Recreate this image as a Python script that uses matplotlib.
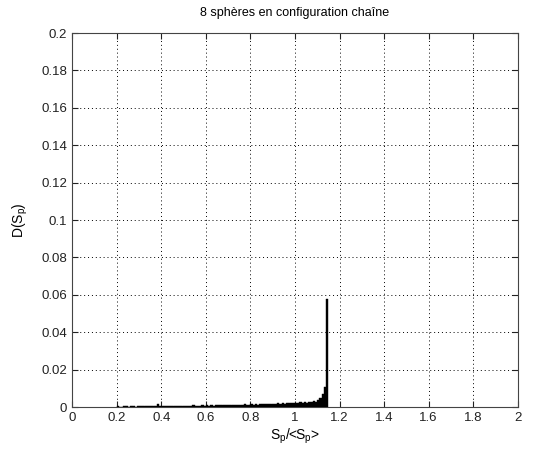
import numpy as np
import matplotlib
matplotlib.use("Agg")
import matplotlib.pyplot as plt

plt.rcParams['font.family'] = ['Liberation Sans', 'DejaVu Sans']
plt.rcParams['mathtext.default'] = 'regular'

# histogram bins (left edges), width 0.01
bin_width = 0.01
bin_left = np.round(np.arange(0.20, 1.15, bin_width), 3)
# D(Sp) values (x 1e-3)
counts_e3 = [
    0.4, 0.3, 0.0, 0.5, 0.4, 0.3, 0.5, 0.4, 0.3, 0.5,
    0.5, 0.4, 0.6, 0.5, 0.4, 0.5, 0.6, 0.5, 1.6, 0.6,
    0.6, 0.7, 0.5, 0.7, 0.6, 0.8, 0.6, 0.7, 0.6, 0.8,
    0.7, 0.6, 0.8, 0.7, 0.9, 0.7, 0.8, 0.7, 0.9, 0.8,
    0.9, 0.8, 1.0, 0.8, 0.9, 1.1, 0.9, 1.0, 1.2, 1.0,
    1.1, 1.0, 1.3, 1.1, 1.4, 1.1, 1.3, 1.5, 1.2, 1.4,
    1.5, 1.3, 1.6, 1.4, 1.7, 1.5, 1.5, 1.8, 1.6, 1.7,
    1.8, 1.7, 2.0, 1.8, 2.1, 1.9, 2.0, 2.3, 2.0, 2.2,
    2.3, 2.1, 2.5, 2.3, 2.8, 2.4, 3.0, 2.7, 3.3, 3.0,
    3.8, 5.0, 7.0, 11.0, 58.0,
]
counts = np.array(counts_e3) / 1000.0

xticks = np.arange(0, 2.01, 0.2)
yticks = np.arange(0, 0.201, 0.02)
xtick_labels = ['0', '0.2', '0.4', '0.6', '0.8', '1', '1.2', '1.4', '1.6', '1.8', '2']
ytick_labels = ['0', '0.02', '0.04', '0.06', '0.08', '0.1', '0.12', '0.14', '0.16', '0.18', '0.2']

fig = plt.figure(figsize=(5.55, 4.59), dpi=100)
ax = fig.add_axes([0.13, 0.113, 0.803, 0.815])

ax.bar(bin_left[:len(counts)], counts, width=bin_width, align='edge',
       color='black', edgecolor='black', linewidth=0.3, zorder=3)

ax.set_xlim(0, 2)
ax.set_ylim(0, 0.2)
ax.set_xticks(xticks)
ax.set_xticklabels(xtick_labels)
ax.set_yticks(yticks)
ax.set_yticklabels(ytick_labels)
ax.tick_params(direction='in', length=4, labelsize=9.5, top=True, right=True,
               labeltop=False, labelright=False, colors='#222222')
ax.grid(True, linestyle=(0, (1, 3)), color='black', linewidth=0.7)
for s in ax.spines.values():
    s.set_color('#444444')
    s.set_linewidth(0.8)

ax.set_title('8 sphères en configuration chaîne', fontsize=9, pad=12)
ax.set_xlabel('S$_p$/<S$_p$>', fontsize=10, labelpad=2)
ax.set_ylabel('D(S$_p$)', fontsize=10, labelpad=8)

fig.savefig('out.png', dpi=100)
